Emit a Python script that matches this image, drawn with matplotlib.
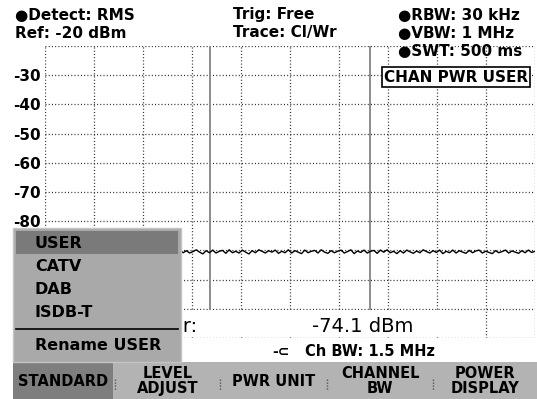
import numpy as np
import matplotlib
matplotlib.use('Agg')
import matplotlib.pyplot as plt
from matplotlib.patches import Rectangle

plt.rcParams['font.family'] = ['DejaVu Sans']
plt.rcParams['lines.scale_dashes'] = False

# frequency axis (MHz, relative to centre) and the measured trace (dBm)
span = 4.6
n_div = 10
trace_dbm = [
    -90.1, -90.8, -89.9, -90.9, -90.4, -89.8, -91.0, -90.2, -90.7, -89.9,
    -90.9, -90.3, -90.0, -91.1, -89.9, -90.6, -89.8, -90.8, -90.3, -91.0,
    -90.1, -90.9, -89.9, -90.4, -91.3, -90.5, -90.0, -90.3, -90.9, -90.7,
    -90.1, -91.1, -90.3, -89.8, -90.8, -90.1, -90.9, -89.8, -90.6, -90.3,
    -91.0, -89.9, -90.8, -90.1, -90.9, -90.4, -89.8, -90.6, -91.2, -90.1,
    -90.8, -89.9, -90.9, -90.3, -90.0, -91.0, -89.8, -90.8, -90.3, -90.9,
    -89.9, -90.6, -91.2, -90.1, -90.8, -89.8, -90.3, -90.9, -90.1, -90.6,
    -89.9, -91.0, -90.3, -90.8, -89.8, -90.9, -90.1, -90.6, -91.1, -89.9,
    -90.8, -90.3, -90.0, -90.9, -89.8, -90.6, -91.0, -90.1, -90.8, -90.3,
    -89.9, -90.9, -90.4, -89.8, -91.1, -90.2, -90.7, -89.9, -90.9, -90.3,
    -90.0, -91.0, -89.9, -90.6, -89.8, -90.8, -90.3, -91.1, -90.1, -90.9,
    -89.9, -90.5, -91.0, -90.2, -90.8, -89.8, -90.4, -90.9, -90.1, -90.7,
    -89.9, -91.1, -90.3, -90.8, -89.9, -90.9, -90.1, -90.6, -91.0, -90.0,
    -90.8, -90.2, -89.9, -90.9, -90.3, -90.7, -91.1, -90.1, -90.8, -90.4,
    -89.9, -90.9, -90.2, -90.6, -91.0, -90.1, -90.8, -89.9, -90.7, -90.3,
]
ch_bw = 1.5
ref_level = -20
db_per_div = 10
ytick_labels = ["", "-30", "-40", "-50", "-60", "-70", "-80", "", "", "", ""]

channel_power = "-74.1 dBm"
header_left = ["\u25cfDetect: RMS", "Ref: -20 dBm"]
header_mid = ["Trig: Free", "Trace: Cl/Wr"]
header_right = ["\u25cfRBW: 30 kHz", "\u25cfVBW: 1 MHz", "\u25cfSWT: 500 ms"]
mode_label = "CHAN PWR USER"
menu_items = ["USER", "CATV", "DAB", "ISDB-T"]
menu_extra = "Rename USER"
softkeys = ["STANDARD", "LEVEL\nADJUST", "PWR UNIT", "CHANNEL\nBW", "POWER\nDISPLAY"]

W, H = 537, 399
fig = plt.figure(figsize=(W / 100, H / 100), dpi=100)
fig.patch.set_facecolor('white')

def fx(px):
    return px / W

def fy(py):
    return 1 - py / H

# grid area: x 45..535, y 46..338
ax = fig.add_axes([fx(45), fy(338), fx(535) - fx(45), fy(46) - fy(338)])
freq = np.linspace(-span / 2, span / 2, len(trace_dbm))
ax.plot(freq, trace_dbm, color='black', lw=1.0, zorder=3)

ax.set_xlim(-span / 2, span / 2)
ax.set_ylim(ref_level - n_div * db_per_div, ref_level)
ax.set_xticks(np.linspace(-span / 2, span / 2, n_div + 1))
yt = [ref_level - i * db_per_div for i in range(n_div + 1)]
ax.set_yticks(yt)
ax.set_yticklabels(ytick_labels, fontsize=11, fontweight='bold')
ax.set_xticklabels([])
ax.tick_params(length=0, pad=3)
for s in ax.spines.values():
    s.set_visible(False)
ax.set_axisbelow(True)
ax.grid(True, color='#222222', lw=0.9, linestyle=(0, (0.72, 1.6)))

# channel limit lines
for f in (-ch_bw / 2, ch_bw / 2):
    ax.plot([f, f], [ref_level, -110], color='#8c8c8c', lw=1.4, zorder=2)

# readout area in the last division
ax.add_patch(Rectangle((-span / 2, -119.6), span * 0.83, 9.2,
                       facecolor='white', edgecolor='none', zorder=1.5))

# header text
for i, t in enumerate(header_left):
    fig.text(fx(15), fy(15 + 18 * i), t, fontsize=11, fontweight='bold', va='center')
for i, t in enumerate(header_mid):
    fig.text(fx(233), fy(15 + 18 * i), t, fontsize=11, fontweight='bold', va='center')
for i, t in enumerate(header_right):
    fig.text(fx(398), fy(15 + 18.5 * i), t, fontsize=11, fontweight='bold', va='center')
fig.text(fx(456), fy(77), mode_label, fontsize=11, fontweight='bold', ha='center', va='center',
         zorder=6, bbox=dict(boxstyle='square,pad=0.15', facecolor='white', edgecolor='black', lw=1.2))

# channel power readout
fig.text(fx(197), fy(326), "Power:", fontsize=14, ha='right', va='center', zorder=3)
fig.text(fx(363), fy(326), channel_power, fontsize=14, ha='center', va='center', zorder=3)
fig.text(fx(272), fy(352), "-\u2282", fontsize=10, fontweight='bold', va='center')
fig.text(fx(305), fy(352), "Ch BW: %s MHz" % ch_bw, fontsize=10.5, fontweight='bold', va='center')

# softkey bar
fig.patches.append(Rectangle((fx(13), 0), fx(537) - fx(13), fy(362), transform=fig.transFigure,
                             facecolor='#b3b3b3', edgecolor='none', zorder=4))
fig.patches.append(Rectangle((fx(13), 0), fx(113) - fx(13), fy(362), transform=fig.transFigure,
                             facecolor='#7e7e7e', edgecolor='none', zorder=4.1))
key_cx = [63, 168, 274, 380, 485]
for cx, lab in zip(key_cx, softkeys):
    fig.text(fx(cx), fy(381), lab, fontsize=10.5, fontweight='bold', ha='center', va='center',
             linespacing=0.95, zorder=7)
for sx in (115, 220, 327, 433):
    fig.lines.append(plt.Line2D([fx(sx), fx(sx)], [fy(389), fy(378)], transform=fig.transFigure,
                                color='#333333', lw=1, linestyle=(0, (0.72, 1.4)), zorder=6))

# popup menu
fig.patches.append(Rectangle((fx(13), fy(362)), fx(181) - fx(13), fy(228) - fy(362),
                             transform=fig.transFigure, facecolor='#a9a9a9',
                             edgecolor='#c4c4c4', lw=1, zorder=5))
fig.patches.append(Rectangle((fx(16), fy(254)), fx(178) - fx(16), fy(231) - fy(254),
                             transform=fig.transFigure, facecolor='#7a7a7a',
                             edgecolor='none', zorder=5.1))
for i, t in enumerate(menu_items):
    fig.text(fx(35), fy(243 + 23.3 * i), t, fontsize=11.5, fontweight='bold', va='center', zorder=7)
fig.lines.append(plt.Line2D([fx(16), fx(178)], [fy(329), fy(329)], transform=fig.transFigure,
                            color='black', lw=1.2, zorder=6))
fig.text(fx(35), fy(346), menu_extra, fontsize=11.5, fontweight='bold', va='center', zorder=7)

fig.savefig('out.png', dpi=100)
